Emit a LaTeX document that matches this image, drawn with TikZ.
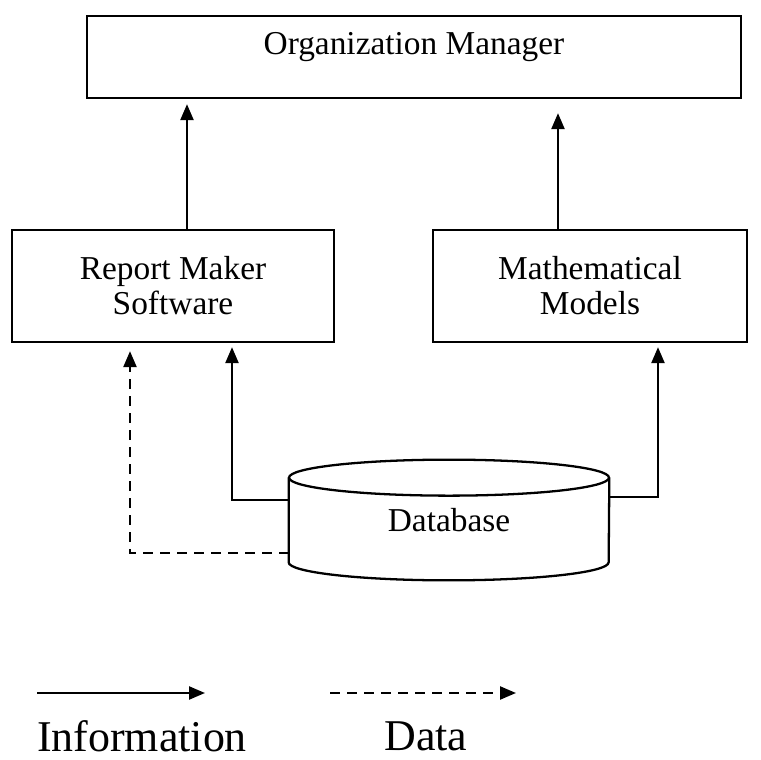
\documentclass[tikz,border=0pt]{standalone}
\usepackage{fontspec}
\setmainfont{Liberation Serif}
\usetikzlibrary{arrows.meta}

\begin{document}
\begin{tikzpicture}[
    box/.style={draw, line width=1.3pt, rectangle, align=center,
                font=\fontsize{19}{20}\selectfont},
    info/.style={line width=1.3pt, -{Triangle[length=0.32cm, width=0.26cm]}},
    data/.style={info, dash pattern=on 0.2cm off 0.14cm},
    legendtext/.style={inner sep=0pt, font=\fontsize{25}{28}\selectfont}
]

    \useasboundingbox (0,0) rectangle (15.2,15.2);

    % top box, its text sits in the upper part
    \node[  box,
            minimum width=13.08cm,
            minimum height=1.64cm] (manager) at (8.28, 14.06)
            { };
    \node[font=\fontsize{19}{21}\selectfont] (managertxt) at ([yshift=0.2cm]manager.center)
            {Organization Manager};

    \node[  box,
            minimum width=6.44cm,
            minimum height=2.24cm] (report) at (3.46, 9.48)
            {Report Maker\\Software};

    \node[  box,
            minimum width=6.28cm,
            minimum height=2.24cm] (models) at (11.8, 9.48)
            {Mathematical\\Models};

    % database cylinder
    \node[  minimum width=6.4cm,
            minimum height=2.4cm,
            font=\fontsize{19}{21}\selectfont] (db) at (8.98, 4.8)
            {Database};
    \draw[line width=1.3pt]
        ([yshift=-0.36cm]db.north) ellipse [x radius=3.2cm, y radius=0.36cm];
    \draw[line width=1.3pt]
        ([yshift=-0.36cm]db.north west) -- ([yshift=0.36cm]db.south west)
        arc [start angle=180, end angle=360, x radius=3.2cm, y radius=0.36cm]
        -- ([yshift=-0.36cm]db.north east);

    % flows into the boxes
    \coordinate (repup) at ([xshift=0.28cm]report.north);
    \coordinate (modup) at ([xshift=-0.64cm]models.north);
    \draw[info, shorten >=0.1cm] (repup) -- (repup |- manager.south);
    \draw[info, shorten >=0.28cm] (modup) -- (modup |- manager.south);
    \draw[info, shorten >=0.08cm] ([yshift=0.4cm]db.west) -| ([xshift=1.18cm]report.south);
    \draw[data, shorten >=0.16cm] ([yshift=-0.66cm]db.west) -| ([xshift=-0.86cm]report.south);
    \draw[info, shorten >=0.08cm] ([yshift=0.46cm]db.east) -| ([xshift=1.36cm]models.south);

    % legend
    \coordinate (infoA) at (0.74, 1.34);
    \coordinate (infoB) at (4.1, 1.34);
    \coordinate (dataA) at (6.6, 1.34);
    \coordinate (dataB) at (10.32, 1.34);
    \draw[info] (infoA) -- (infoB);
    \draw[data] (dataA) -- (dataB);
    \node[legendtext] (infolbl) at (2.84, 0.48) {Information};
    \node[legendtext] (datalbl) at (8.52, 0.48) {Data};

\end{tikzpicture}
\end{document}
